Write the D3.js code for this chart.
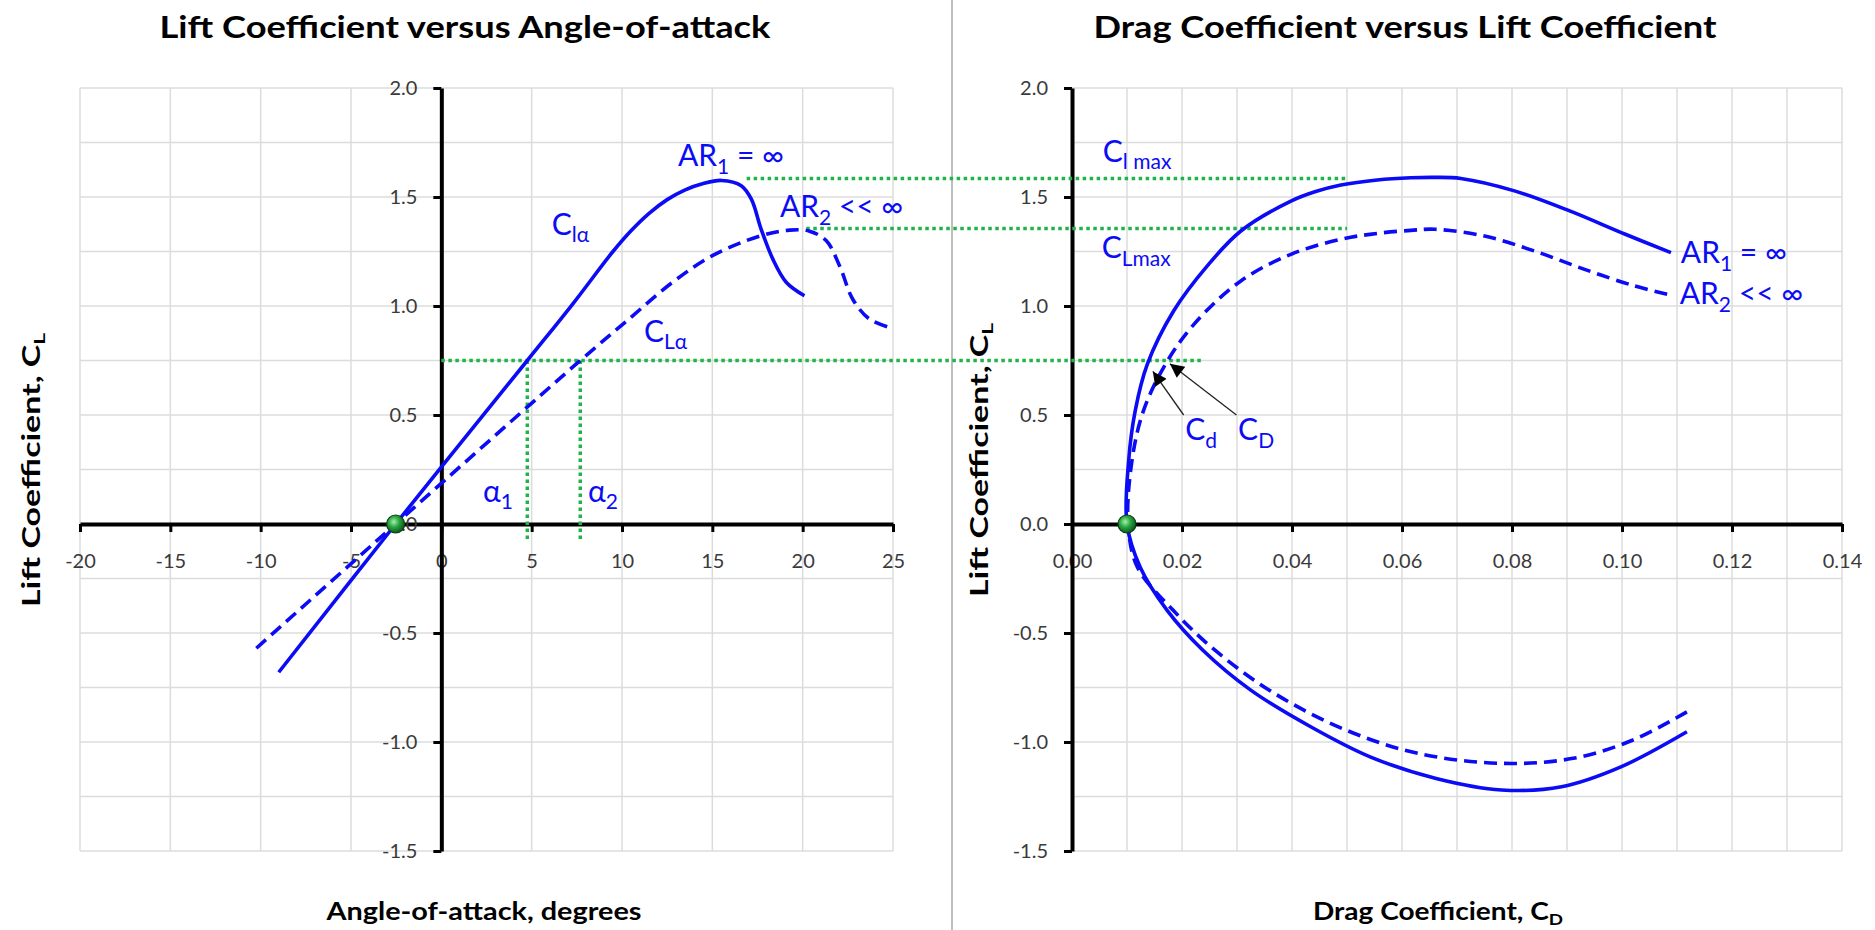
<!DOCTYPE html>
<html>
<head>
<meta charset="utf-8">
<script src="https://cdn.jsdelivr.net/npm/d3@7"></script>
<style>
    body { margin: 0; background: #fff; }
    svg text { font-family: Lato, "Open Sans", sans-serif; white-space: pre; }
    .grid line { stroke: #dcdcdc; stroke-width: 1.5; }
    .axis .domain { stroke: #000; stroke-width: 4; }
    .axis .tick line { stroke: #000; stroke-width: 3; }
    .axis .tick text { font-size: 20px; fill: #3a3a3a; }
</style>
</head>
<body>
<div class="charts"></div>
<script>
// lift curve, infinite aspect ratio (solid) and finite (dashed)
var alphaInf = [-9, -2.53, 4.76, 7.28, 9.5, 10.5, 11.5, 12.5, 13.5, 14.5, 15.5, 16.6, 17.16, 17.7, 18.35, 19.1, 20.1];
var clInf = [-0.68, 0, 0.75, 1.01, 1.25, 1.345, 1.425, 1.488, 1.533, 1.562, 1.576, 1.552, 1.49, 1.353, 1.215, 1.108, 1.047];
var alphaFin = [-10.24, -2.53, 7.69, 10.24, 12.82, 15.03, 17.6, 19.27, 20.38, 21.3, 22.04, 22.78, 23.7, 25];
var clFin = [-0.57, 0, 0.75, 0.93, 1.11, 1.232, 1.32, 1.348, 1.343, 1.30, 1.185, 1.03, 0.94, 0.897];

// drag polars, ordered along the curve from the lower end
var cdInf = [0.1118, 0.0998, 0.089, 0.0781, 0.0662, 0.0542, 0.0434, 0.0325, 0.0238, 0.0173, 0.0124, 0.0100, 0.0103, 0.0115, 0.0137, 0.0185, 0.0246, 0.0307, 0.0398, 0.0443, 0.0489, 0.0555, 0.0616, 0.066, 0.0707, 0.0806, 0.0906, 0.1006, 0.1089];
var clPolarInf = [-0.953, -1.114, -1.205, -1.22, -1.167, -1.068, -0.93, -0.762, -0.579, -0.396, -0.198, 0.0, 0.29, 0.52, 0.733, 0.978, 1.184, 1.344, 1.481, 1.525, 1.555, 1.578, 1.588, 1.59, 1.585, 1.527, 1.435, 1.329, 1.245];
var cdFin = [0.1118, 0.102, 0.0911, 0.0781, 0.0629, 0.0499, 0.0368, 0.026, 0.0184, 0.0119, 0.0102, 0.0109, 0.013, 0.017, 0.0222, 0.0307, 0.0398, 0.0489, 0.0555, 0.0616, 0.066, 0.075, 0.0841, 0.0932, 0.1023, 0.109];
var clPolarFin = [-0.862, -0.991, -1.075, -1.098, -1.052, -0.946, -0.777, -0.579, -0.396, -0.198, 0, 0.29, 0.52, 0.733, 0.917, 1.115, 1.237, 1.306, 1.333, 1.347, 1.352, 1.321, 1.252, 1.168, 1.092, 1.049];

// tick values
var xTicksL = [-20, -15, -10, -5, 0, 5, 10, 15, 20, 25];
var xTicksR = [0, 0.02, 0.04, 0.06, 0.08, 0.10, 0.12, 0.14];
var yTicks = [-1.5, -1.0, -0.5, 0, 0.5, 1.0, 1.5, 2.0];

// reference values
var clDesign = 0.75;
var alpha1 = 4.76, alpha2 = 7.69;
var clMaxInf = 1.585, clMaxFin = 1.355;
var alphaZeroLift = -2.53, cdMin = 0.0100;

var blue = "#0b0bf5",
    green = "#1fb34a";

function drawCharts() {
    var svg = d3.select(".charts").append("svg")
        .attr("width", 1875)
        .attr("height", 930);

    var y = d3.scaleLinear().domain([-1.5, 2]).range([851, 88]);
    var xL = d3.scaleLinear().domain([-20, 25]).range([80, 893]);
    var xR = d3.scaleLinear().domain([0, 0.14]).range([1072, 1842]);

    var defs = svg.append("defs");
    var grad = defs.append("radialGradient").attr("id", "ball")
        .attr("cx", "40%").attr("cy", "38%").attr("r", "65%");
    grad.append("stop").attr("offset", "0%").attr("stop-color", "#a8f0a8");
    grad.append("stop").attr("offset", "45%").attr("stop-color", "#2aa845");
    grad.append("stop").attr("offset", "100%").attr("stop-color", "#0a5518");

    defs.append("marker")
        .attr("id", "arrowhead")
        .attr("viewBox", "0 0 10 10")
        .attr("refX", 10).attr("refY", 5)
        .attr("markerUnits", "userSpaceOnUse")
        .attr("markerWidth", 20).attr("markerHeight", 14)
        .attr("orient", "auto")
        .append("path")
        .attr("d", "M0,0 L10,5 L0,10 z")
        .attr("fill", "#000");

    // separator between the two panels
    svg.append("line")
        .attr("x1", 952).attr("x2", 952)
        .attr("y1", 0).attr("y2", 930)
        .attr("stroke", "#a9a9a9").attr("stroke-width", 1.5);

    // grids
    function drawGrid(x, xs) {
        var g = svg.append("g").attr("class", "grid");
        g.selectAll(".v").data(xs).enter().append("line")
            .attr("x1", d => x(d)).attr("x2", d => x(d))
            .attr("y1", y(2)).attr("y2", y(-1.5));
        g.selectAll(".h").data(d3.range(-1.5, 2.01, 0.25)).enter().append("line")
            .attr("x1", x.range()[0]).attr("x2", x.range()[1])
            .attr("y1", d => y(d)).attr("y2", d => y(d));
    }
    drawGrid(xL, xTicksL);
    drawGrid(xR, d3.range(0, 15).map(i => i / 100));

    // axes
    function drawAxes(x, xTicks, xFormat) {
        svg.append("g")
            .attr("class", "x axis")
            .attr("transform", "translate(0," + y(0) + ")")
            .call(d3.axisBottom(x).tickValues(xTicks).tickFormat(xFormat)
                .tickSize(8).tickSizeOuter(0).tickPadding(22));
        svg.append("g")
            .attr("class", "y axis")
            .attr("transform", "translate(" + x(0) + ",0)")
            .call(d3.axisLeft(y).tickValues(yTicks).tickFormat(d => d.toFixed(1))
                .tickSize(8).tickSizeOuter(0).tickPadding(16));
    }
    drawAxes(xL, xTicksL, d => String(d));
    drawAxes(xR, xTicksR, d => d.toFixed(2));

    // green dotted construction lines
    var dots = svg.append("g")
        .attr("stroke", green)
        .attr("stroke-width", 3.5)
        .attr("stroke-dasharray", "3.5,3.5")
        .attr("fill", "none");
    var hLines = [
        { cl: clDesign, a: 0, cd: 0.024 },
        { cl: clMaxInf, a: 16.9, cd: 0.05 },
        { cl: clMaxFin, a: 20.2, cd: 0.05 }
    ];
    dots.selectAll(".h").data(hLines).enter().append("line")
        .attr("x1", d => xL(d.a)).attr("x2", d => xR(d.cd))
        .attr("y1", d => y(d.cl)).attr("y2", d => y(d.cl));
    dots.selectAll(".v").data([alpha1, alpha2]).enter().append("line")
        .attr("x1", d => xL(d)).attr("x2", d => xL(d))
        .attr("y1", y(clDesign)).attr("y2", y(-0.07));

    // curves
    var liftLine = d3.line()
        .curve(d3.curveCatmullRom.alpha(0.5))
        .x(d => xL(d[0]))
        .y(d => y(d[1]));
    var polarLine = d3.line()
        .curve(d3.curveCatmullRom.alpha(0.5))
        .x(d => xR(d[0]))
        .y(d => y(d[1]));

    var series = [
        { line: liftLine, xs: alphaInf, ys: clInf, dash: null },
        { line: liftLine, xs: alphaFin, ys: clFin, dash: "13,7" },
        { line: polarLine, xs: cdInf, ys: clPolarInf, dash: null },
        { line: polarLine, xs: cdFin, ys: clPolarFin, dash: "13,7" }
    ];
    svg.selectAll(".curve").data(series).enter().append("path")
        .attr("class", "curve")
        .attr("d", d => d.line(d.xs.map((v, i) => [v, d.ys[i]])))
        .attr("fill", "none")
        .attr("stroke", blue)
        .attr("stroke-width", 3.6)
        .attr("stroke-dasharray", d => d.dash);

    // zero-lift markers
    svg.selectAll(".ball").data([[xL(alphaZeroLift), y(0)], [xR(cdMin), y(0)]]).enter()
        .append("circle")
        .attr("cx", d => d[0]).attr("cy", d => d[1]).attr("r", 9)
        .attr("fill", "url(#ball)")
        .attr("stroke", "#0b3d14").attr("stroke-width", 1.2);

    // arrows pointing to the polars
    var arrows = [
        { from: [0.0203, 0.50], to: [0.0147, 0.70] },
        { from: [0.0299, 0.50], to: [0.0178, 0.735] }
    ];
    svg.selectAll(".arrow").data(arrows).enter().append("line")
        .attr("x1", d => xR(d.from[0])).attr("y1", d => y(d.from[1]))
        .attr("x2", d => xR(d.to[0])).attr("y2", d => y(d.to[1]))
        .attr("stroke", "#222").attr("stroke-width", 1.3)
        .attr("marker-end", "url(#arrowhead)");

    // blue annotations: text parts, second item marks a subscript
    function addLabel(px, py, parts, size) {
        var t = svg.append("text")
            .attr("x", px).attr("y", py)
            .attr("font-size", size)
            .attr("fill", blue);
        var shift = 0;
        parts.forEach(function (p) {
            var target = p[1] ? size * 0.25 : 0;
            t.append("tspan")
                .attr("dy", target - shift)
                .attr("font-size", p[1] ? size * 0.7 : size)
                .text(p[0]);
            shift = target;
        });
    }
    addLabel(xL(13.1), y(1.642), [["AR"], ["1", 1], [" = \u221e"]], 30);
    addLabel(xL(18.74), y(1.408), [["AR"], ["2", 1], [" << \u221e"]], 30);
    addLabel(xL(6.11), y(1.326), [["C"], ["l\u03b1", 1]], 30);
    addLabel(xL(11.22), y(0.836), [["C"], ["L\u03b1", 1]], 30);
    addLabel(xL(2.3), y(0.102), [["\u03b1"], ["1", 1]], 30);
    addLabel(xL(8.12), y(0.102), [["\u03b1"], ["2", 1]], 30);
    addLabel(xR(0.0056), y(1.662), [["C"], ["l max", 1]], 30);
    addLabel(xR(0.0054), y(1.219), [["C"], ["Lmax", 1]], 30);
    addLabel(xR(0.0206), y(0.385), [["C"], ["d", 1]], 30);
    addLabel(xR(0.0302), y(0.385), [["C"], ["D", 1]], 30);
    addLabel(xR(0.1107), y(1.196), [["AR"], ["1", 1], [" = \u221e"]], 30);
    addLabel(xR(0.1105), y(1.009), [["AR"], ["2", 1], [" << \u221e"]], 30);

    // titles
    var titles = [
        { x: 465, y: 38, text: "Lift Coefficient versus Angle-of-attack", len: 611 },
        { x: 1405, y: 38, text: "Drag Coefficient versus Lift Coefficient", len: 623 }
    ];
    svg.selectAll(".title").data(titles).enter().append("text")
        .attr("x", d => d.x).attr("y", d => d.y)
        .attr("text-anchor", "middle")
        .attr("font-size", 31).attr("font-weight", "bold")
        .attr("textLength", d => d.len)
        .attr("lengthAdjust", "spacingAndGlyphs")
        .text(d => d.text);

    function axisTitle(px, py, rot, main, sub, len) {
        var t = svg.append("text")
            .attr("transform", "translate(" + px + "," + py + ") rotate(" + rot + ")")
            .attr("text-anchor", "middle")
            .attr("font-size", 24).attr("font-weight", "bold")
            .attr("textLength", len)
            .attr("lengthAdjust", "spacingAndGlyphs");
        t.append("tspan").text(main);
        if (sub) {
            t.append("tspan").attr("font-size", 16).attr("dy", 5).text(sub);
        }
    }
    axisTitle(484, 920, 0, "Angle-of-attack, degrees", null, 315);
    axisTitle(1438, 920, 0, "Drag Coefficient, C", "D", 250);
    axisTitle(40, 470, -90, "Lift Coefficient, C", "L", 274);
    axisTitle(988, 460, -90, "Lift Coefficient, C", "L", 274);
}

document.addEventListener("DOMContentLoaded", drawCharts);
</script>
</body>
</html>
